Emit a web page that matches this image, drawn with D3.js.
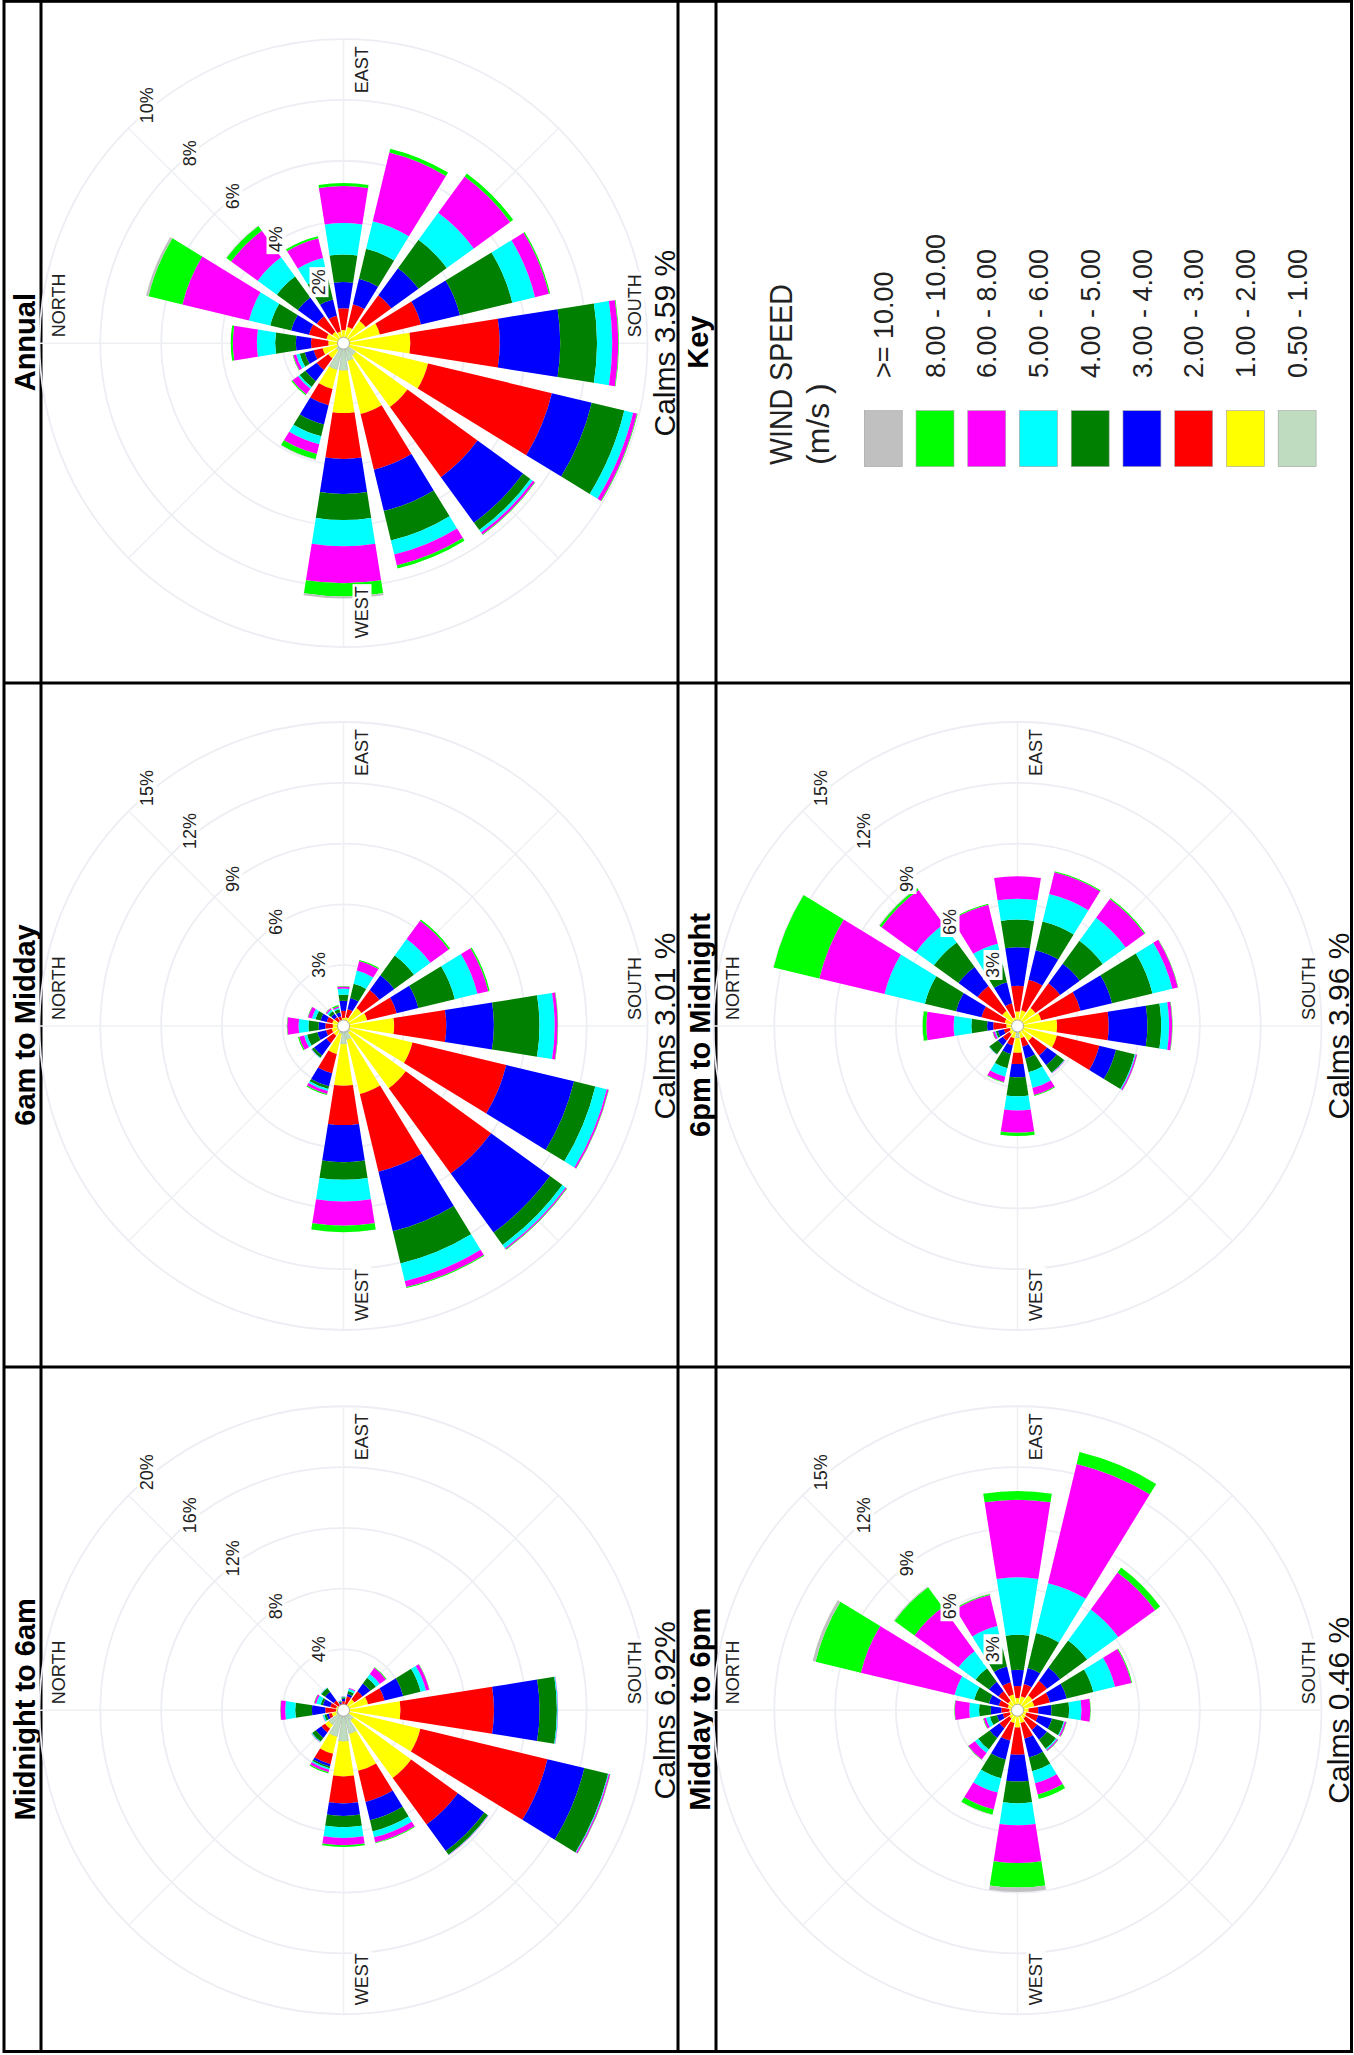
<!DOCTYPE html>
<html>
<head>
<meta charset="utf-8">
<title>Wind roses</title>
<script src="https://cdn.jsdelivr.net/npm/d3@7/dist/d3.min.js"></script>
<style>
  html, body { margin: 0; padding: 0; background: #fff; }
  svg { display: block; }
  text { font-family: "Liberation Sans", Arial, Helvetica, sans-serif; }
</style>
</head>
<body>
<svg id="page" width="1354" height="2055"></svg>
<script>
// 16 compass points, clockwise from north
const directions = ["N","NNE","NE","ENE","E","ESE","SE","SSE","S","SSW","SW","WSW","W","WNW","NW","NNW"];

// wind speed classes (m/s), innermost band first
const speedBins = ["0.50 - 1.00","1.00 - 2.00","2.00 - 3.00","3.00 - 4.00","4.00 - 5.00",
                   "5.00 - 6.00","6.00 - 8.00","8.00 - 10.00",">= 10.00"];
const speedColors = ["#c0dcc0","#ffff00","#ff0000","#0000ff","#008000",
                     "#00ffff","#ff00ff","#00ff00","#c0c0c0"];

// frequency of occurrence (%) : one row per direction, one column per speed class
const midnightTo6am = [
  [0.10,0.40,0.70,0.88,1.10,0.66,0.31,0.02,0.00],
  [0.05,0.45,0.40,0.50,0.15,0.30,0.13,0.02,0.00],
  [0.05,0.35,0.40,0.70,0.30,0.04,0.02,0.00,0.00],
  [0.05,0.25,0.15,0.10,0.07,0.04,0.02,0.00,0.00],
  [0.05,0.25,0.30,0.15,0.10,0.05,0.02,0.00,0.00],
  [0.05,0.30,0.60,0.15,0.20,0.15,0.05,0.00,0.00],
  [0.05,0.85,0.65,0.62,0.47,0.31,0.50,0.05,0.00],
  [0.05,1.61,1.12,1.26,1.18,0.36,0.22,0.02,0.00],
  [0.05,3.70,6.15,3.00,1.14,0.06,0.02,0.00,0.00],
  [0.40,4.80,8.60,2.50,1.60,0.05,0.09,0.02,0.00],
  [0.80,4.70,3.80,2.15,0.30,0.03,0.02,0.00,0.00],
  [1.60,2.50,2.10,1.25,0.75,0.40,0.35,0.05,0.00],
  [2.05,2.30,1.78,0.82,0.75,0.70,0.48,0.12,0.00],
  [1.80,1.15,0.70,0.15,0.12,0.10,0.18,0.08,0.00],
  [1.20,0.30,0.30,0.45,0.30,0.05,0.02,0.01,0.00],
  [0.50,0.30,0.20,0.15,0.15,0.10,0.02,0.00,0.00]
];

const sixamToMidday = [
  [0.05,0.48,0.37,0.33,0.50,0.49,0.56,0.02,0.00],
  [0.05,0.52,0.28,0.31,0.26,0.18,0.20,0.02,0.00],
  [0.05,0.25,0.25,0.20,0.15,0.10,0.08,0.02,0.00],
  [0.05,0.25,0.20,0.20,0.15,0.07,0.08,0.07,0.00],
  [0.05,0.35,0.35,0.50,0.30,0.30,0.10,0.02,0.00],
  [0.05,0.40,0.40,0.57,0.72,0.67,0.49,0.05,0.00],
  [0.05,1.05,1.10,0.90,1.20,1.00,1.12,0.08,0.00],
  [0.05,1.15,1.50,1.10,1.85,1.15,0.55,0.07,0.00],
  [0.05,2.45,2.57,2.35,2.25,0.75,0.15,0.02,0.00],
  [0.10,3.40,4.76,3.44,1.08,0.58,0.09,0.02,0.00],
  [0.40,3.40,5.20,3.60,0.75,0.20,0.07,0.03,0.00],
  [0.70,2.75,3.94,3.03,1.63,0.90,0.30,0.05,0.00],
  [0.90,2.05,1.94,1.83,0.87,1.07,1.19,0.32,0.00],
  [0.40,1.02,0.98,0.66,0.14,0.10,0.15,0.05,0.00],
  [0.10,0.50,0.45,0.75,0.13,0.03,0.01,0.00,0.00],
  [0.05,0.55,0.29,0.44,0.52,0.15,0.25,0.06,0.00]
];

const annual = [
  [0.05,0.45,0.57,0.50,0.68,0.60,0.79,0.07,0.00],
  [0.05,0.53,0.59,0.60,0.71,0.72,2.25,1.15,0.08],
  [0.05,0.41,0.63,0.77,0.85,0.78,1.08,0.19,0.02],
  [0.05,0.34,0.54,0.55,0.78,0.62,0.67,0.07,0.00],
  [0.05,0.38,0.72,0.86,0.91,1.03,1.22,0.10,0.00],
  [0.05,0.50,0.77,0.86,1.01,0.93,2.33,0.13,0.00],
  [0.05,0.85,1.05,1.10,1.15,1.10,1.48,0.12,0.00],
  [0.05,1.18,1.39,1.32,1.77,0.77,0.47,0.04,0.00],
  [0.05,2.15,2.94,1.99,1.21,0.50,0.20,0.02,0.00],
  [0.05,2.81,4.19,1.35,1.10,0.30,0.13,0.02,0.00],
  [0.50,2.10,2.85,1.85,0.30,0.10,0.08,0.02,0.00],
  [0.60,1.80,1.88,1.40,1.00,0.47,0.37,0.10,0.00],
  [0.90,1.40,1.51,1.15,0.86,0.86,1.22,0.43,0.07],
  [0.90,0.65,0.55,0.65,0.40,0.27,0.33,0.18,0.02],
  [0.30,0.32,0.47,0.46,0.23,0.07,0.23,0.04,0.00],
  [0.20,0.51,0.30,0.30,0.17,0.12,0.10,0.02,0.00]
];

const middayTo6pm = [
  [0.05,0.35,0.40,0.52,0.58,0.48,0.72,0.02,0.00],
  [0.05,0.45,0.45,0.50,0.75,1.00,4.75,2.30,0.15],
  [0.05,0.53,0.58,0.58,0.82,1.04,2.68,1.22,0.05],
  [0.05,0.75,0.62,0.80,0.90,1.15,1.58,0.05,0.02],
  [0.05,0.55,0.60,0.80,1.72,2.84,3.83,0.43,0.00],
  [0.05,0.66,0.62,0.81,1.78,2.53,6.05,0.60,0.00],
  [0.05,0.85,0.90,0.80,1.65,1.90,2.25,0.30,0.00],
  [0.05,0.80,0.80,0.85,1.35,1.10,0.83,0.04,0.00],
  [0.05,0.50,0.48,0.65,0.87,0.61,0.44,0.02,0.00],
  [0.05,0.40,0.60,0.70,0.60,0.05,0.08,0.02,0.00],
  [0.05,0.45,0.70,0.60,0.55,0.07,0.06,0.02,0.00],
  [0.05,0.60,0.80,0.95,0.70,0.60,0.57,0.23,0.00],
  [0.10,0.75,1.35,1.32,1.08,1.08,1.86,1.21,0.22],
  [0.05,0.60,0.90,0.95,0.95,0.73,0.85,0.27,0.02],
  [0.05,0.45,0.60,0.60,0.70,0.20,0.40,0.02,0.00],
  [0.05,0.35,0.35,0.30,0.35,0.20,0.12,0.03,0.00]
];

const sixpmToMidnight = [
  [0.05,0.50,0.65,0.30,0.78,0.87,1.35,0.18,0.02],
  [0.05,0.60,1.18,1.29,1.58,2.05,3.31,2.32,0.02],
  [0.05,0.88,1.51,1.16,1.50,1.10,2.10,0.12,0.03],
  [0.05,0.40,0.71,1.06,0.90,1.06,1.97,0.05,0.00],
  [0.05,0.67,1.26,1.90,1.37,1.03,1.11,0.00,0.00],
  [0.05,0.75,1.55,1.50,1.45,1.40,1.10,0.05,0.00],
  [0.05,1.05,1.50,1.20,1.40,1.40,1.15,0.05,0.00],
  [0.05,1.15,2.00,1.60,2.05,1.01,0.28,0.02,0.00],
  [0.05,1.90,2.55,1.91,0.68,0.39,0.15,0.02,0.00],
  [0.05,1.95,2.15,0.85,0.95,0.05,0.07,0.01,0.00],
  [0.05,0.85,0.90,0.60,0.45,0.03,0.02,0.00,0.00],
  [0.10,0.52,0.43,0.60,0.70,0.80,0.35,0.05,0.00],
  [0.60,0.72,0.56,0.65,0.94,0.70,1.10,0.16,0.00],
  [0.30,0.32,0.36,0.44,0.72,0.44,0.27,0.03,0.00],
  [0.20,0.30,0.40,0.30,0.52,0.02,0.01,0.00,0.00],
  [0.10,0.30,0.30,0.30,0.10,0.05,0.10,0.02,0.00]
];

// ring levels (%) of each rose
const ticks20 = [4, 8, 12, 16, 20];
const ticks15 = [3, 6, 9, 12, 15];
const ticks10 = [2, 4, 6, 8, 10];

const panels = [
  { title: "Midnight to 6am", col: 0, row: 0, data: midnightTo6am,   ticks: ticks20, calms: "Calms 6.92%" },
  { title: "6am to Midday",   col: 1, row: 0, data: sixamToMidday,   ticks: ticks15, calms: "Calms 3.01 %" },
  { title: "Annual",          col: 2, row: 0, data: annual,          ticks: ticks10, calms: "Calms 3.59 %" },
  { title: "Midday to 6pm",   col: 0, row: 1, data: middayTo6pm,     ticks: ticks15, calms: "Calms 0.46 %" },
  { title: "6pm to Midnight", col: 1, row: 1, data: sixpmToMidnight, ticks: ticks15, calms: "Calms 3.96 %" }
];

// ---------------------------------------------------------------------------
const R = 304;                          // radius of the outermost ring
const HALF = 9 * Math.PI / 180;         // half width of a petal

const svg = d3.select("#page");
// the sheet is laid out in landscape and turned a quarter turn anticlockwise
const page = svg.append("g").attr("transform", "translate(0,2055) rotate(-90)");

const colX = [3.5, 688, 1372, 2053.7];
const rowY = [4, 678, 1351.5];
const stripY = [41, 716];

// table frame
const frame = page.append("g").attr("stroke", "#000").attr("stroke-width", 3).attr("fill", "none");
frame.append("rect")
  .attr("x", colX[0]).attr("y", rowY[0])
  .attr("width", colX[3] - colX[0]).attr("height", rowY[2] - rowY[0]);
const frameLines = [
  [colX[0], rowY[1], colX[3], rowY[1]],
  [colX[1], rowY[0], colX[1], rowY[2]],
  [colX[2], rowY[0], colX[2], rowY[2]],
  [colX[0], stripY[0], colX[3], stripY[0]],
  [colX[0], stripY[1], colX[3], stripY[1]]
];
frame.selectAll("line").data(frameLines).join("line")
  .attr("x1", d => d[0]).attr("y1", d => d[1]).attr("x2", d => d[2]).attr("y2", d => d[3]);

function boxedLabel(parent, x, y, str, anchor) {
  const t = parent.append("text")
    .attr("x", x).attr("y", y)
    .attr("text-anchor", anchor)
    .attr("font-size", 18)
    .attr("fill", "#222")
    .text(str);
  const b = t.node().getBBox();
  parent.insert("rect", () => t.node())
    .attr("x", b.x - 2).attr("y", b.y + 1)
    .attr("width", b.width + 4).attr("height", b.height - 1)
    .attr("fill", "#fff");
}

panels.forEach(p => {
  const cellMid = (colX[p.col] + colX[p.col + 1]) / 2;
  const cx = cellMid - 1;
  const cy = rowY[p.row] + 339.5;

  page.append("text")
    .attr("x", cellMid).attr("y", stripY[p.row] - 6.5)
    .attr("text-anchor", "middle")
    .attr("font-size", 29).attr("font-weight", "bold")
    .attr("fill", "#000")
    .text(p.title);

  page.append("text")
    .attr("x", cx).attr("y", cy + 331)
    .attr("text-anchor", "middle")
    .attr("font-size", 30)
    .attr("fill", "#111")
    .text(p.calms);

  const g = page.append("g").attr("transform", `translate(${cx},${cy})`);
  const r = d3.scaleLinear().domain([0, d3.max(p.ticks)]).range([0, R]);

  // grid: faint rings and spokes
  g.selectAll("circle.ring").data(p.ticks).join("circle")
    .attr("class", "ring")
    .attr("r", d => r(d))
    .attr("fill", "none")
    .attr("stroke", "#eceef3")
    .attr("stroke-width", 1.8);
  g.selectAll("line.spoke").data([0, 45, 90, 135]).join("line")
    .attr("class", "spoke")
    .attr("x1", d => R * Math.sin(d * Math.PI / 180))
    .attr("y1", d => -R * Math.cos(d * Math.PI / 180))
    .attr("x2", d => -R * Math.sin(d * Math.PI / 180))
    .attr("y2", d => R * Math.cos(d * Math.PI / 180))
    .attr("stroke", "#eef0f4")
    .attr("stroke-width", 1.5);

  // petals: speed classes stacked outward for every direction
  const rows = p.data.map((v, i) => ({ dir: directions[i], angle: i * 2 * Math.PI / directions.length, v }));
  const series = d3.stack()
    .keys(d3.range(speedBins.length))
    .value((d, k) => d.v[k])(rows);
  const arc = d3.arc()
    .innerRadius(d => r(d[0]))
    .outerRadius(d => r(d[1]))
    .startAngle(d => d.data.angle - HALF)
    .endAngle(d => d.data.angle + HALF);

  g.selectAll("g.band").data(series).join("g")
    .attr("class", "band")
    .attr("fill", s => speedColors[s.key])
    .attr("stroke", s => s.key === 0 ? "#a3b3a3" : "none")
    .attr("stroke-width", 0.6)
    .selectAll("path")
    .data(s => s.filter(d => d[1] > d[0]))
    .join("path")
    .attr("d", arc);

  // calm circle
  g.append("circle").attr("r", 6).attr("fill", "#fff").attr("stroke", "#9a9a9a").attr("stroke-width", 0.8);

  // ring labels along the north-east diagonal
  p.ticks.forEach(t => {
    const rr = r(t) * Math.SQRT1_2;
    boxedLabel(g, rr + 5, -rr + 24, t + "%", "start");
  });

  // compass labels
  boxedLabel(g, 6, -279, "NORTH", "start");
  boxedLabel(g, 6, 297, "SOUTH", "start");
  boxedLabel(g, 297, 24, "EAST", "end");
  boxedLabel(g, -295, 24, "WEST", "start");
});

// ---------------------------------------------------------------------------
// key
const keyMid = (colX[2] + colX[3]) / 2;
page.append("text")
  .attr("x", keyMid).attr("y", stripY[1] - 8)
  .attr("text-anchor", "middle")
  .attr("font-size", 29).attr("font-weight", "bold")
  .text("Key");

const key = page.append("g");
key.append("text")
  .attr("x", 1590).attr("y", 792)
  .attr("font-size", 32).attr("fill", "#222")
  .attr("textLength", 181).attr("lengthAdjust", "spacingAndGlyphs")
  .text("WIND SPEED");
key.append("text")
  .attr("x", 1590).attr("y", 829)
  .attr("font-size", 32).attr("fill", "#222")
  .text("(m/s )");

const keyRows = d3.range(speedBins.length).reverse();   // fastest class first
const keyY = d3.scaleBand().domain(keyRows).range([864.3, 864.3 + 50.2 * keyRows.length]).paddingInner(0.267);
key.selectAll("rect.swatch").data(keyRows).join("rect")
  .attr("class", "swatch")
  .attr("x", 1588.4).attr("width", 55.9)
  .attr("y", k => keyY(k)).attr("height", keyY.bandwidth())
  .attr("fill", k => speedColors[k])
  .attr("stroke", "#a0a0a0").attr("stroke-width", 0.6);
key.selectAll("text.bin").data(keyRows).join("text")
  .attr("class", "bin")
  .attr("x", 1677)
  .attr("y", k => keyY(k) + keyY.bandwidth() / 2 + 9.7)
  .attr("font-size", 27).attr("fill", "#222")
  .text(k => speedBins[k]);
</script>
</body>
</html>
